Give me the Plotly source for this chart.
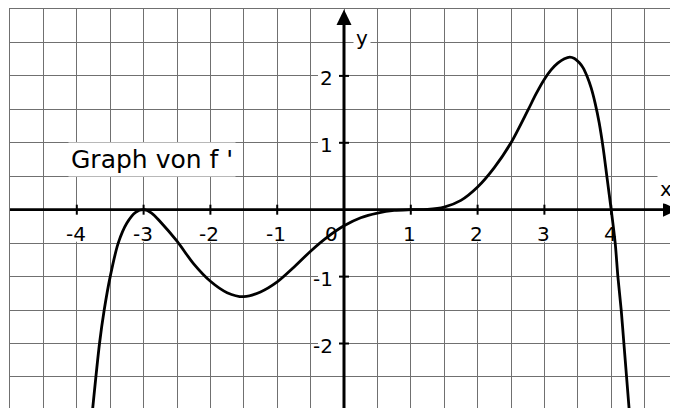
import plotly.graph_objects as go

# Curve values (graph of f')
curve_x = [-3.77, -3.66, -3.59, -3.5, -3.38, -3.25, -3.12, -3.0, -2.88, -2.75, -2.5, -2.25,
           -2.0, -1.75, -1.5, -1.25, -1.0, -0.75, -0.5, -0.25, 0.0, 0.25, 0.5, 0.75,
           1.0, 1.25, 1.5, 1.75, 2.0, 2.25, 2.5, 2.75, 2.875, 3.0, 3.1, 3.2, 3.3, 3.38,
           3.45, 3.52, 3.58, 3.64, 3.7, 3.76, 3.82, 3.88, 3.94, 4.0, 4.06, 4.1, 4.15,
           4.19, 4.23, 4.27]
curve_y = [-3.05, -2.0, -1.5, -1.0, -0.5, -0.2, -0.04, 0.0, -0.05, -0.18, -0.47, -0.81,
           -1.07, -1.24, -1.30, -1.23, -1.08, -0.86, -0.62, -0.41, -0.24, -0.12, -0.05, -0.01,
           0.0, 0.005, 0.04, 0.14, 0.34, 0.63, 1.0, 1.48, 1.73, 1.95, 2.09, 2.19, 2.255, 2.28,
           2.26, 2.20, 2.12, 1.99, 1.82, 1.59, 1.30, 0.92, 0.46, 0.0, -0.5, -1.0, -1.5,
           -2.0, -2.5, -3.0]

x_ticks = [-4, -3, -2, -1, 1, 2, 3, 4]
x_tick_text = ["-4", "-3", "-2", "-1", "1", "2", "3", "4"]
y_ticks = [-2, -1, 1, 2]
y_tick_text = ["-2", "-1", "1", "2"]
origin_text = "0"
x_axis_label = "x"
y_axis_label = "y"
graph_label = "Graph von f '"

X_MIN, X_MAX = -5, 5
Y_MIN, Y_MAX = -2.964, 3
FONT = "DejaVu Sans"
GRID = "#707070"

fig = go.Figure()
fig.add_trace(go.Scatter(
    x=curve_x, y=curve_y, mode="lines",
    line=dict(color="black", width=2.8, shape="spline", smoothing=0.8),
    hoverinfo="skip", showlegend=False))

shapes = []
annotations = []

# white boxes behind tick labels (hide grid lines there)
for v in x_ticks:
    shapes.append(dict(type="rect", layer="between", xref="x", yref="y",
                       xsizemode="pixel", xanchor=v, x0=-12, x1=12,
                       ysizemode="pixel", yanchor=0, y0=-4, y1=-32,
                       fillcolor="white", line=dict(width=0)))
for v in y_ticks:
    shapes.append(dict(type="rect", layer="between", xref="x", yref="y",
                       xsizemode="pixel", xanchor=0, x0=-26, x1=-5,
                       ysizemode="pixel", yanchor=v, y0=-11, y1=11,
                       fillcolor="white", line=dict(width=0)))

# axes
shapes.append(dict(type="line", xref="x", yref="y", x0=X_MIN, x1=4.8, y0=0, y1=0,
                   line=dict(color="black", width=2.8), layer="above"))
shapes.append(dict(type="line", xref="x", yref="y", x0=0, x1=0, y0=Y_MIN, y1=2.78,
                   line=dict(color="black", width=3), layer="above"))
# arrow heads
shapes.append(dict(type="path", xref="x", yref="y", xsizemode="pixel", ysizemode="pixel",
                   xanchor=X_MAX, yanchor=0, path="M 0 0 L -15 7 L -15 -7 Z",
                   fillcolor="black", line=dict(width=0), layer="above"))
shapes.append(dict(type="path", xref="x", yref="y", xsizemode="pixel", ysizemode="pixel",
                   xanchor=0, yanchor=Y_MAX, path="M 0 -0.5 L -7.5 -16 L 7.5 -16 Z",
                   fillcolor="black", line=dict(width=0), layer="above"))
# tick marks
for v in x_ticks:
    shapes.append(dict(type="line", xref="x", yref="y", x0=v, x1=v,
                       ysizemode="pixel", yanchor=0, y0=-5, y1=5,
                       line=dict(color="black", width=2), layer="above"))
for v in y_ticks:
    shapes.append(dict(type="line", xref="x", yref="y", y0=v, y1=v,
                       xsizemode="pixel", xanchor=0, x0=-5, x1=5,
                       line=dict(color="black", width=2), layer="above"))

# tick labels
for v, t in zip(x_ticks, x_tick_text):
    annotations.append(dict(x=v, y=0, xref="x", yref="y", text=t, showarrow=False,
                            xanchor="center", yanchor="middle", yshift=-24, xshift=-1,
                            font=dict(family=FONT, size=20, color="black")))
for v, t in zip(y_ticks, y_tick_text):
    annotations.append(dict(x=0, y=v, xref="x", yref="y", text=t, showarrow=False,
                            xanchor="right", yanchor="middle", xshift=-9, yshift=-2,
                            font=dict(family=FONT, size=20, color="black")))
annotations.append(dict(x=0, y=0, xref="x", yref="y", text=origin_text, showarrow=False,
                        xanchor="center", yanchor="middle", xshift=-13, yshift=-24,
                        font=dict(family=FONT, size=20, color="black")))
annotations.append(dict(x=4.82, y=0.31, xref="x", yref="y", text=x_axis_label,
                        showarrow=False, xanchor="center", yanchor="middle",
                        bgcolor="white", borderpad=2,
                        font=dict(family=FONT, size=20, color="black")))
annotations.append(dict(x=0.27, y=2.574, xref="x", yref="y", text=y_axis_label,
                        showarrow=False, xanchor="center", yanchor="middle",
                        bgcolor="white", borderpad=2,
                        font=dict(family=FONT, size=20, color="black")))
annotations.append(dict(x=-2.87, y=0.75, xref="x", yref="y", text=graph_label,
                        showarrow=False, xanchor="center", yanchor="middle",
                        bgcolor="white", borderpad=2,
                        font=dict(family=FONT, size=25, color="black")))

# the page body has an 8px margin, so the figure is 8px smaller than the window
fig.update_layout(
    width=670, height=400,
    margin=dict(l=2, r=0, t=1, b=0, pad=0),
    paper_bgcolor="white", plot_bgcolor="white",
    shapes=shapes, annotations=annotations,
    xaxis=dict(range=[X_MIN, X_MAX], tick0=0, dtick=0.5, showgrid=True,
               gridcolor=GRID, gridwidth=1, zeroline=False, showticklabels=False,
               ticks="", showline=True, linecolor=GRID, linewidth=1, mirror=True,
               fixedrange=True),
    yaxis=dict(range=[Y_MIN, Y_MAX], tick0=0, dtick=0.5, showgrid=True,
               gridcolor=GRID, gridwidth=1, zeroline=False, showticklabels=False,
               ticks="", showline=True, linecolor=GRID, linewidth=1, mirror=True,
               fixedrange=True),
)

fig.write_html("out.html")
